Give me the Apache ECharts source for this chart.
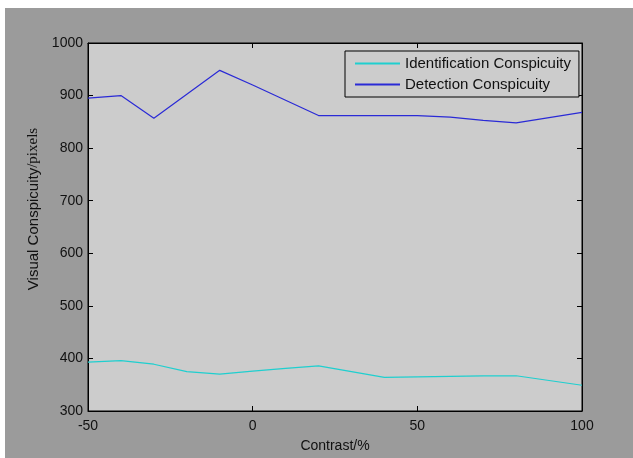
<!DOCTYPE html>
<html>
<head>
<meta charset="utf-8">
<script src="https://cdn.jsdelivr.net/npm/echarts@6/dist/echarts.min.js"></script>
<style>
  html, body { margin: 0; padding: 0; background: #ffffff; }
  #chart { position: absolute; left: 5px; top: 8px; width: 628px; height: 450px; }
</style>
</head>
<body>
<div id="chart"></div>
<script>
// Contrast (%) sample positions and the two conspicuity measurements (pixels)
const contrast = [-50, -40, -30, -20, -10, 0, 10, 20, 30, 40, 50, 60, 70, 80, 90, 100];
const identification = [393, 396, 389, 375, 370, 376, 381, 386, 375, 364, 365, 366, 367, 367, 358, 349];
const detectionX = [-50, -40, -30, -10, 0, 20, 50, 60, 70, 80, 100];
const detection = [895, 900, 857, 948, 920, 862, 862, 859, 853, 848, 868];

const xTicks = [-50, 0, 50, 100];
const yTicks = [300, 400, 500, 600, 700, 800, 900, 1000];

const seriesNames = ['Identification Conspicuity', 'Detection Conspicuity'];
const seriesColors = ['#1fcfcf', '#2a2ad6'];

const pairs = (xs, ys) => xs.map((x, i) => [x, ys[i]]);

const font = 'Liberation Sans, Arial, sans-serif';
const serif = 'Liberation Serif, Times New Roman, serif';
const tickStyle = { show: true, inside: true, length: 5, lineStyle: { color: '#000' } };
const frameLine = { show: true, onZero: false, lineStyle: { color: '#000' } };
const plain = v => String(v);

const chart = echarts.init(document.getElementById('chart'));
chart.setOption({
  backgroundColor: '#9b9b9b',
  animation: false,
  color: seriesColors,
  textStyle: { fontFamily: font },
  grid: {
    left: 83, right: 51, top: 35, bottom: 45,
    show: true, backgroundColor: '#cccccc', borderColor: '#000', borderWidth: 1
  },
  legend: {
    data: seriesNames,
    orient: 'vertical',
    left: 340, top: 43,
    backgroundColor: '#cccccc',
    borderColor: '#000', borderWidth: 1, borderRadius: 0,
    padding: [5, 8, 5, 9],
    itemWidth: 45, itemHeight: 14, itemGap: 6,
    itemStyle: { opacity: 0 },
    textStyle: { fontFamily: font, fontSize: 15, color: '#111' }
  },
  xAxis: [{
    type: 'value', min: xTicks[0], max: xTicks[xTicks.length - 1], interval: 50,
    name: 'Contrast/%', nameLocation: 'middle', nameGap: 28,
    nameTextStyle: { fontFamily: font, fontSize: 14, color: '#111' },
    axisLine: frameLine,
    axisTick: tickStyle,
    splitLine: { show: false },
    axisLabel: { margin: 8, fontSize: 14, color: '#111', fontFamily: font, formatter: plain }
  }, {
    type: 'value', position: 'top', min: xTicks[0], max: xTicks[xTicks.length - 1], interval: 50,
    axisLine: frameLine,
    axisTick: tickStyle, axisLabel: { show: false }, splitLine: { show: false }
  }],
  yAxis: [{
    type: 'value', min: yTicks[0], max: yTicks[yTicks.length - 1], interval: 100,
    name: '{a|Visual Conspicuity}{b|/pixels}', nameLocation: 'middle', nameGap: 47,
    nameTextStyle: {
      color: '#111', padding: [0, 0, 0, 36],
      rich: {
        a: { fontFamily: font, fontSize: 15, color: '#111' },
        b: { fontFamily: serif, fontSize: 15, color: '#111' }
      }
    },
    axisLine: frameLine,
    axisTick: tickStyle,
    splitLine: { show: false },
    axisLabel: { margin: 5, fontSize: 14, color: '#111', fontFamily: font, formatter: plain }
  }, {
    type: 'value', position: 'right', min: yTicks[0], max: yTicks[yTicks.length - 1], interval: 100,
    axisLine: frameLine,
    axisTick: tickStyle, axisLabel: { show: false }, splitLine: { show: false }
  }],
  series: [{
    name: seriesNames[0], type: 'line', symbol: 'none',
    data: pairs(contrast, identification),
    lineStyle: { color: seriesColors[0], width: 1.2 }
  }, {
    name: seriesNames[1], type: 'line', symbol: 'none',
    data: pairs(detectionX, detection),
    lineStyle: { color: seriesColors[1], width: 1.2 }
  }]
});
</script>
</body>
</html>
